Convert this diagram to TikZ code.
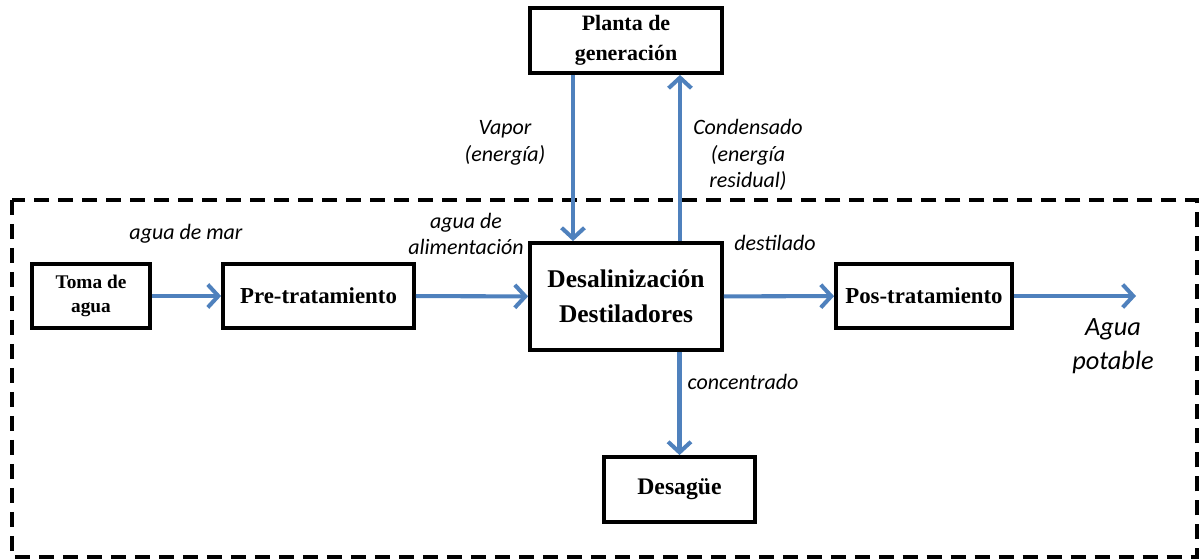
\documentclass[tikz,border=0pt]{standalone}
\usepackage{fontspec}
\setmainfont{Liberation Serif}
\newfontfamily\lblfont{Carlito}
\usepackage{tikz}
\usetikzlibrary{arrows.meta,positioning}
\definecolor{flowblue}{RGB}{79,129,189}
\tikzset{
    box/.style={draw,rectangle,line width=2.2pt,align=center,font=\bfseries},
    flow/.style={draw=flowblue,line width=2.3pt,-{Straight Barb[length=6pt,width=13pt]}},
    lbl/.style={font=\lblfont\itshape\fontsize{12.5}{15}\selectfont,align=center,inner sep=0pt}
}

\begin{document}
\begin{tikzpicture}[x=0.02cm,y=-0.02cm]
        \useasboundingbox (0,0) rectangle (1200,560);

        % system border
        \draw[line width=2.2pt,dash pattern=on 0.3cm off 0.18cm] (12,200) rectangle (1197,557);

        \begin{scope}[every node/.append style={box}]
            \node [minimum width=3.84cm,minimum height=1.3cm,font=\bfseries\fontsize{12.5}{17}\selectfont] (planta) at (626,40.5) {Planta de\\generación};
            \node [minimum width=2.36cm,minimum height=1.28cm,font=\bfseries\fontsize{11}{13.5}\selectfont] (toma) at (91,296) {Toma de\\agua};
            \node [minimum width=3.82cm,minimum height=1.28cm,font=\bfseries\fontsize{13}{15}\selectfont] (pre) at (318.5,296) {Pre-tratamiento};
            \node [minimum width=3.84cm,minimum height=2.14cm,font=\bfseries\fontsize{14.5}{20}\selectfont] (desal) at (626,296.5) {Desalinización\\Destiladores};
            \node [minimum width=3.52cm,minimum height=1.28cm,font=\bfseries\fontsize{13}{15}\selectfont] (pos) at (924,296) {Pos-tratamiento};
            \node [minimum width=3.02cm,minimum height=1.3cm,font=\bfseries\fontsize{13.5}{15}\selectfont] (desague) at (679.5,489.5) {Desagüe};
        \end{scope}

        \coordinate (salida) at (1136,296);

        \begin{scope}[every path/.append style={flow}]
            \draw (toma) -- (pre);
            \draw (pre) -- (desal);
            \draw ([xshift=-1.06cm]planta.south) -- ([xshift=-1.06cm]desal.north);
            \draw ([xshift=1.08cm]desal.north) -- ([xshift=1.08cm]planta.south);
            \draw (desal) -- (pos);
            \draw (pos) -- (salida);
            \draw (desal.south -| desague.north) -- (desague.north);
        \end{scope}

        \begin{scope}[every node/.append style={lbl}]
            \node (mar) at (186,234) {agua de mar};
            \node (alim) at (466,234) {agua de\\alimentación};
            \node (vapor) at (505,143) {Vapor\\(energía)};
            \node (cond) at (748,155) {Condensado\\(energía\\residual)};
            \node (dest) at (775,243) {destilado};
            \node (conc) at (743,382) {concentrado};
            \node [font=\lblfont\itshape\fontsize{15}{19}\selectfont] (potable) at (1113,346) {Agua\\potable};
        \end{scope}
    \end{tikzpicture}
\end{document}
